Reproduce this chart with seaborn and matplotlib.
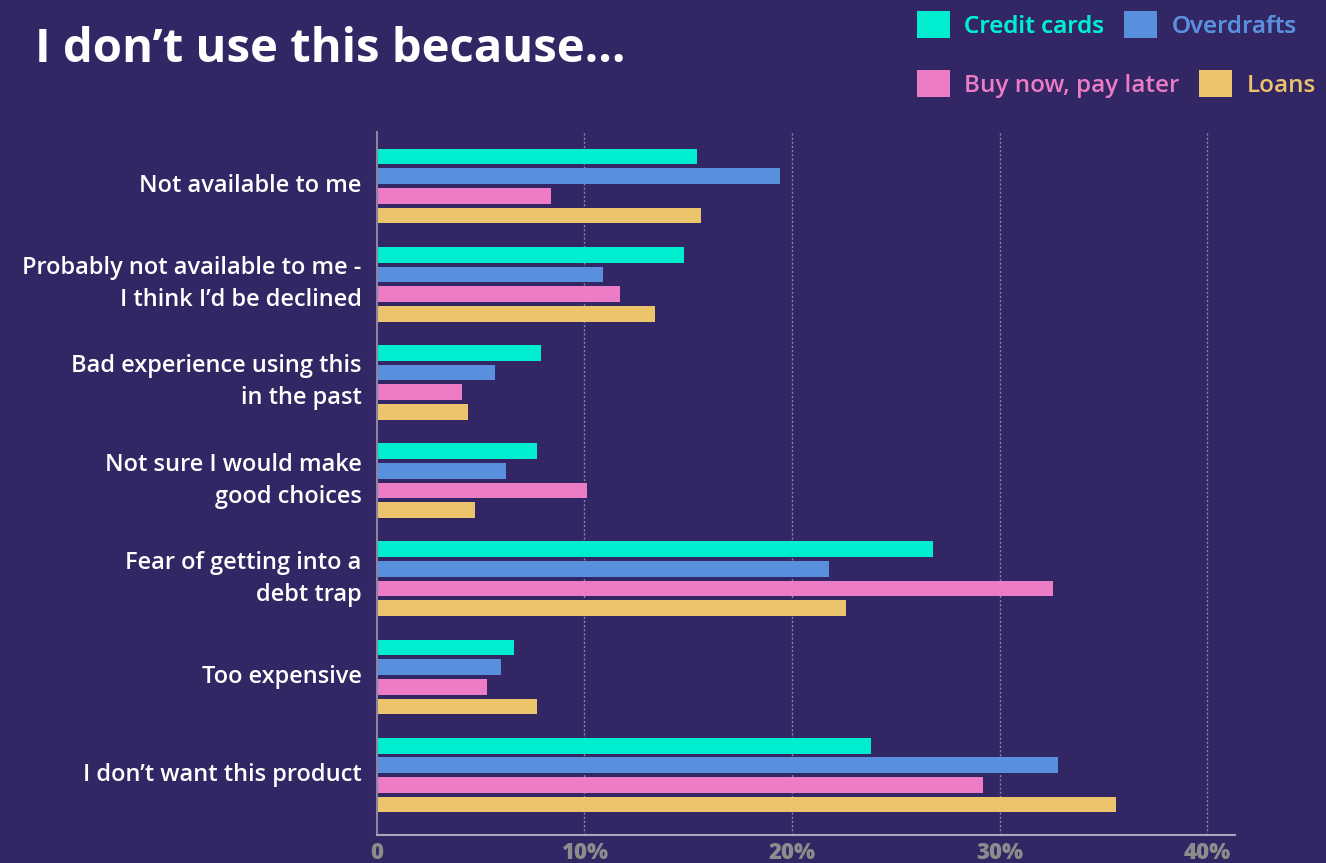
import matplotlib
matplotlib.use("Agg")
import matplotlib.pyplot as plt
import seaborn as sns
import pandas as pd

categories = [
    "Not available to me",
    "Probably not available to me -\nI think I\u2019d be declined",
    "Bad experience using this\nin the past",
    "Not sure I would make\ngood choices",
    "Fear of getting into a\ndebt trap",
    "Too expensive",
    "I don\u2019t want this product",
]
series = ["Credit cards", "Overdrafts", "Buy now, pay later", "Loans"]
credit_cards = [15.4, 14.8, 7.9, 7.7, 26.8, 6.6, 23.8]
overdrafts = [19.4, 10.9, 5.7, 6.2, 21.8, 6.0, 32.8]
bnpl = [8.4, 11.7, 4.1, 10.1, 32.6, 5.3, 29.2]
loans = [15.6, 13.4, 4.4, 4.7, 22.6, 7.7, 35.6]
xticks = [0, 10, 20, 30, 40]
xtick_labels = ["0", "10%", "20%", "30%", "40%"]

colors = ["#00EDCF", "#5A8FDE", "#EC7CC6", "#ECC46C"]
bg = "#322664"

rows = []
for s, vals in zip(series, [credit_cards, overdrafts, bnpl, loans]):
    for c, v in zip(categories, vals):
        rows.append({"category": c, "series": s, "value": v})
df = pd.DataFrame(rows)

sns.set_theme(style="white")
plt.rcParams["font.family"] = ["Open Sans", "DejaVu Sans"]

fig = plt.figure(figsize=(13.26, 8.63), dpi=100, facecolor=bg)
ax = fig.add_axes([0.2843, 0.0324, 0.9314 - 0.2843, 0.847 - 0.0324])
ax.set_facecolor(bg)

sns.barplot(data=df, x="value", y="category", hue="series", order=categories,
            hue_order=series, palette=colors, orient="h", width=0.8, gap=0.2,
            ax=ax, legend=False, saturation=1, linewidth=0, edgecolor="none")

ax.set_xlim(0, 41.35)
ax.set_ylim(6.61, -0.55)
ax.set_xticks(xticks)
ax.set_xticklabels(xtick_labels)
ax.set_xlabel("")
ax.set_ylabel("")
for x in xticks[1:]:
    ax.axvline(x, color="#8a86a8", lw=1, ls=(0, (1.5, 1.5)), zorder=0)

for side in ["top", "right"]:
    ax.spines[side].set_visible(False)
ax.spines["left"].set_color("#8a86a0")
ax.spines["left"].set_linewidth(1.5)
ax.spines["bottom"].set_color("#a9a6bd")
ax.spines["bottom"].set_linewidth(1.5)

ax.tick_params(axis="both", length=0)
ax.tick_params(axis="y", pad=11)
ax.tick_params(axis="x", pad=4)
for lab in ax.get_yticklabels():
    lab.set_color("white")
    lab.set_fontsize(17)
    lab.set_fontweight("semibold")
    lab.set_horizontalalignment("right")
    lab.set_verticalalignment("center")
    lab.set_linespacing(1.45)
for lab in ax.get_xticklabels():
    lab.set_color("#8c8c8c")
    lab.set_fontsize(16)
    lab.set_fontweight("heavy")

fig.text(35 / 1326, 1 - 49 / 863, "I don\u2019t use this because...", color="white",
         fontsize=34, fontweight="bold", ha="left", va="center")

# legend
from matplotlib.patches import Patch
def make_legend(labels, cols, y):
    handles = [Patch(facecolor=c, edgecolor="none") for c in cols]
    leg = fig.legend(handles, labels, loc="center left", bbox_to_anchor=(917 / 1326, y),
                     ncol=2, frameon=False, fontsize=17.5, handlelength=1.35, handleheight=1.35,
                     handletextpad=0.6, columnspacing=0.8, borderaxespad=0, borderpad=0)
    for t, c in zip(leg.get_texts(), cols):
        t.set_color(c)
        t.set_fontweight("semibold")
    return leg

l1 = make_legend(series[:2], colors[:2], 1 - 25 / 863)
fig.add_artist(l1)
l2 = make_legend(series[2:], colors[2:], 1 - 84 / 863)

fig.savefig("out.png", dpi=100, facecolor=bg)
